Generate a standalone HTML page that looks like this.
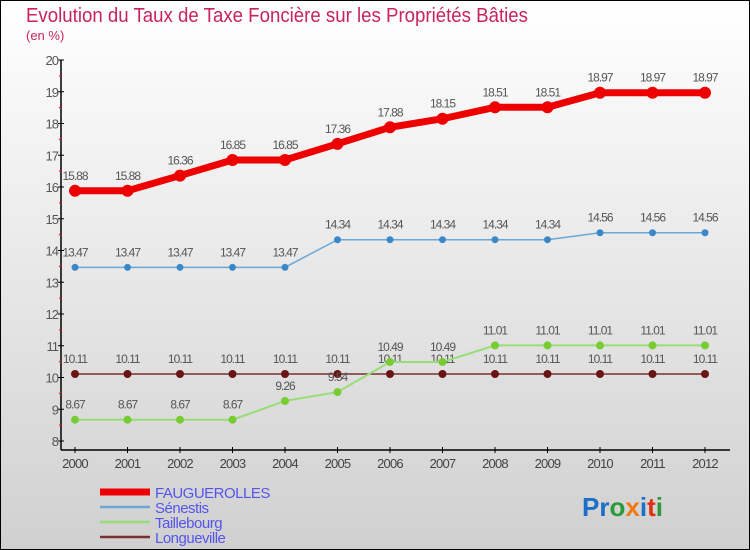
<!DOCTYPE html>
<html><head><meta charset="utf-8"><style>
html,body{margin:0;padding:0}
body{width:750px;height:550px;overflow:hidden}
svg{display:block;font-family:"Liberation Sans",sans-serif}
</style></head><body>
<svg id="chart" width="750" height="550" viewBox="0 0 750 550">
<defs>
<linearGradient id="bg" x1="0" y1="0" x2="0" y2="1"><stop offset="0" stop-color="#ffffff"/><stop offset="1" stop-color="#d0d0d0"/></linearGradient>
</defs>
<rect x="0.5" y="0.5" width="749" height="549" fill="url(#bg)" stroke="#000"/>
<text x="26" y="22" font-size="20" fill="#c8245a" textLength="502" lengthAdjust="spacingAndGlyphs">Evolution du Taux de Taxe Foncière sur les Propriétés Bâties</text>
<text x="26" y="40" font-size="13" fill="#c8245a">(en %)</text>
<g id="axes"></g>
<g id="series"></g>
<g id="legend"></g>
<text x="582" y="516" font-size="26" font-weight="bold"><tspan fill="#1a6fc8">Pr</tspan><tspan fill="#2a9a3a">o</tspan><tspan fill="#f07a10">x</tspan><tspan fill="#1a6fc8">i</tspan><tspan fill="#e03010">t</tspan><tspan fill="#2a9a3a">i</tspan></text>
</svg>
<script>
const years=[2000,2001,2002,2003,2004,2005,2006,2007,2008,2009,2010,2011,2012];
const yTicks=[8,9,10,11,12,13,14,15,16,17,18,19,20];
const seriesNames=["FAUGUEROLLES","Sénestis","Taillebourg","Longueville"];
const faugerolles=[15.88,15.88,16.36,16.85,16.85,17.36,17.88,18.15,18.51,18.51,18.97,18.97,18.97];
const senestis=[13.47,13.47,13.47,13.47,13.47,14.34,14.34,14.34,14.34,14.34,14.56,14.56,14.56];
const taillebourg=[8.67,8.67,8.67,8.67,9.26,9.54,10.49,10.49,11.01,11.01,11.01,11.01,11.01];
const longueville=[10.11,10.11,10.11,10.11,10.11,10.11,10.11,10.11,10.11,10.11,10.11,10.11,10.11];
const NS="http://www.w3.org/2000/svg";
const x0=75,xStep=52.5,yTop=60,yBot=441,vMin=8,vMax=20;
function xs(i){return x0+i*xStep;}
function ys(v){return yBot-(v-vMin)/(vMax-vMin)*(yBot-yTop);}
function mk(tag,attrs,parent){const e=document.createElementNS(NS,tag);for(const k in attrs)e.setAttribute(k,attrs[k]);parent.appendChild(e);return e;}
const axes=document.getElementById('axes');
let a=mk('line',{x1:61,y1:yTop,x2:61,y2:yBot+9,stroke:'#000','stroke-width':1.5},axes);


a=mk('line',{x1:61,y1:yBot+9,x2:730,y2:yBot+9,stroke:'#000','stroke-width':1.5},axes);


yTicks.forEach((t,i)=>{
 const y=ys(t);
 mk('line',{x1:58,y1:y,x2:64,y2:y,stroke:'#000'},axes);
 if(i<yTicks.length-1) mk('line',{x1:59,y1:ys(t+0.5),x2:62,y2:ys(t+0.5),stroke:'#f00'},axes);
 const tx=mk('text',{x:58,y:y+5,'text-anchor':'end','font-size':13,fill:'#555','letter-spacing':'-1'},axes);
 tx.textContent=t;
 
 
});
years.forEach((yr,i)=>{
 const x=xs(i);
 mk('line',{x1:x,y1:yBot+6,x2:x,y2:yBot+12,stroke:'#000'},axes);
 const tx=mk('text',{x:x,y:yBot+27,'text-anchor':'middle','font-size':13,fill:'#444','letter-spacing':'-0.8'},axes);
 tx.textContent=yr;
 
 
});
const styles=[
 {data:faugerolles,color:'#ee0000',w:7,r:6,dot:'#ee0000',name:'faugerolles'},
 {data:senestis,color:'#6aa8d8',w:1.5,r:3.5,dot:'#3a88c8',name:'senestis'},
 {data:taillebourg,color:'#99dd77',w:2,r:4,dot:'#77cc33',name:'taillebourg'},
 {data:longueville,color:'#7a3030',w:1.5,r:4,dot:'#6a1515',name:'longueville'}
];
const sg=document.getElementById('series');
[3,2,1,0].forEach(si=>{
 const s=styles[si];
 const g=mk('g',{},sg);
 
 
 const pl=mk('polyline',{points:s.data.map((v,i)=>xs(i)+','+ys(v)).join(' '),fill:'none',stroke:s.color,'stroke-width':s.w},g);
 
 
 s.data.forEach((v,i)=>{
  const c=mk('circle',{cx:xs(i),cy:ys(v),r:s.r,fill:s.dot},g);
  
  
  const t=mk('text',{x:xs(i),y:ys(v)-11,'text-anchor':'middle','font-size':12,fill:'#555','letter-spacing':'-1'},g);
  t.textContent=v.toFixed(2).replace(/0$/,'').replace(/\.$/,'');
  
  
 });
});
const lg=document.getElementById('legend');
seriesNames.forEach((n,i)=>{
 const y=492+i*15;
 const s=styles[i];
 const g=mk('g',{},lg);
 
 
 mk('line',{x1:100,y1:y,x2:150,y2:y,stroke:i==0?'#ee0000':s.color,'stroke-width':i==0?7:2.5},g);
 const t=mk('text',{x:155,y:y+6,'font-size':15,fill:'#5555ee','letter-spacing':'-0.5'},g);
 t.textContent=n;
});
</script>
</body></html>
